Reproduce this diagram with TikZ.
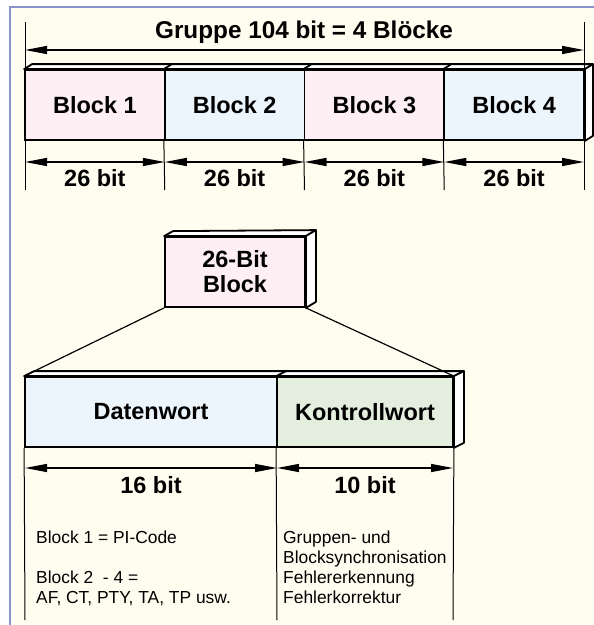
\documentclass[tikz,border=0pt]{standalone}
\usepackage{fontspec}
\setmainfont{Liberation Sans}
\usetikzlibrary{arrows.meta}
\definecolor{framecol}{RGB}{136,148,200}
\definecolor{paper}{RGB}{255,253,240}
\definecolor{pinkfill}{RGB}{254,239,245}
\definecolor{bluefill}{RGB}{237,245,252}
\definecolor{greenfill}{RGB}{228,238,222}

\begin{document}
\begin{tikzpicture}[x=1pt, y=-1pt,
		blocknode/.style={draw, line width=1.8pt, minimum height=70pt, inner sep=0pt, align=center,
			font=\fontsize{23.5}{25}\selectfont\bfseries},
		face/.style={draw, fill=white, line width=1.8pt, line join=round},
		guide/.style={line width=1pt},
		dimline/.style={{Triangle[length=22pt,width=8pt]}-{Triangle[length=22pt,width=8pt]}, line width=1.3pt},
		bitlabel/.style={anchor=base, inner sep=0pt, font=\fontsize{23.5}{25}\selectfont\bfseries},
		infoline/.style={anchor=base west, inner sep=0pt, font=\fontsize{17.4}{20}\selectfont}
	]
	\clip (0,0) rectangle (594,625);
	\fill[white] (0,0) rectangle (594,625);
	\draw[framecol, fill=paper, line width=2.6pt] (10,7) rectangle (620,650);

	% Gruppe
	\node[bitlabel, font=\fontsize{24.3}{26}\selectfont\bfseries] (title) at (304,38) {Gruppe 104 bit = 4 Blöcke};

	\node[blocknode, fill=pinkfill, minimum width=139.75pt] (b1) at (94.875,105) {Block 1};
	\node[blocknode, fill=bluefill, minimum width=139.75pt] (b2) at (234.625,105) {Block 2};
	\node[blocknode, fill=pinkfill, minimum width=139.75pt] (b3) at (374.375,105) {Block 3};
	\node[blocknode, fill=bluefill, minimum width=139.75pt] (b4) at (514.125,105) {Block 4};

	\draw[face] (b1.north west) -- ++(8,-5) -- ([shift={(8,-5)}]b4.north east) -- (b4.north east) -- cycle;
	\draw[face] (b4.north east) -- ++(8,-5) -- ([shift={(8,-5)}]b4.south east) -- (b4.south east) -- cycle;
	\draw[line width=1.8pt] (b2.north west) -- ++(8,-5);
	\draw[line width=1.8pt] (b3.north west) -- ++(8,-5);
	\draw[line width=1.8pt] (b4.north west) -- ++(8,-5);

	\coordinate (t0) at (25,22);
	\coordinate (t4) at (584,22);
	\coordinate (u0) at (25,190);
	\coordinate (u1) at (164.75,190);
	\coordinate (u2) at (304.5,190);
	\coordinate (u3) at (444.25,190);
	\coordinate (u4) at (584,190);

	\draw[guide] (t0) -- (u0);
	\draw[guide] (t4) -- (u4);
	\draw[guide] (b2.south west) -- (u1);
	\draw[guide] (b3.south west) -- (u2);
	\draw[guide] (b4.south west) -- (u3);

	\coordinate (a0) at (25,50);
	\coordinate (a4) at (584,50);
	\draw[dimline] (a0) -- (a4);

	\coordinate (d0) at (25,162);
	\coordinate (d1) at (164.75,162);
	\coordinate (d2) at (304.5,162);
	\coordinate (d3) at (444.25,162);
	\coordinate (d4) at (584,162);
	\draw[dimline] (d0) -- (d1);
	\draw[dimline] (d1) -- (d2);
	\draw[dimline] (d2) -- (d3);
	\draw[dimline] (d3) -- (d4);

	\node[bitlabel] (l1) at (94.875,186) {26 bit};
	\node[bitlabel] (l2) at (234.625,186) {26 bit};
	\node[bitlabel] (l3) at (374.375,186) {26 bit};
	\node[bitlabel] (l4) at (514.125,186) {26 bit};

	% 26-Bit Block
	\node[blocknode, fill=pinkfill, minimum width=140pt] (blk) at (235,272) {26-Bit\\Block};
	\draw[face] (blk.north west) -- ++(9,-5) -- ([shift={(10,-6)}]blk.north east) -- (blk.north east) -- cycle;
	\draw[face] (blk.north east) -- ++(10,-6) -- ([shift={(10,-6)}]blk.south east) -- (blk.south east) -- cycle;

	% Datenwort / Kontrollwort
	\node[blocknode, fill=bluefill, minimum width=252pt] (dw) at (151,412) {Datenwort};
	\node[blocknode, fill=greenfill, minimum width=176pt] (kw) at (365,412) {Kontrollwort};

	\draw[face] (dw.north west) -- ++(10,-5) -- ([shift={(10,-5)}]kw.north east) -- (kw.north east) -- cycle;
	\draw[face] (kw.north east) -- ++(10,-5) -- ([shift={(10,-5)}]kw.south east) -- (kw.south east) -- cycle;
	\draw[line width=1.8pt] (kw.north west) -- ++(10,-5);

	\draw[line width=1.2pt] (blk.south west) -- (dw.north west);
	\draw[line width=1.2pt] (blk.south east) -- (kw.north east);

	\coordinate (v0) at (25,620);
	\coordinate (v1) at (277,620);
	\coordinate (v2) at (453,620);
	\draw[guide] (dw.south west) -- (v0);
	\draw[guide] (kw.south west) -- (v1);
	\draw[guide] (kw.south east) -- (v2);

	\coordinate (e0) at (25,468);
	\coordinate (e1) at (277,468);
	\coordinate (e2) at (453,468);
	\draw[dimline] (e0) -- (e1);
	\draw[dimline] (e1) -- (e2);

	\node[bitlabel] (l16) at (151,493) {16 bit};
	\node[bitlabel] (l10) at (365,493) {10 bit};

	% Erklaerungen
	\node[infoline] (i1) at (36,543) {Block 1 = PI-Code};
	\node[infoline] (i2) at (36,583) {Block 2~~- 4 =};
	\node[infoline] (i3) at (36,603) {AF, CT, PTY, TA, TP usw.};

	\node[infoline] (k1) at (283,543) {Gruppen- und};
	\node[infoline] (k2) at (283,563) {Blocksynchronisation};
	\node[infoline] (k3) at (283,583) {Fehlererkennung};
	\node[infoline] (k4) at (283,603) {Fehlerkorrektur};
\end{tikzpicture}
\end{document}
